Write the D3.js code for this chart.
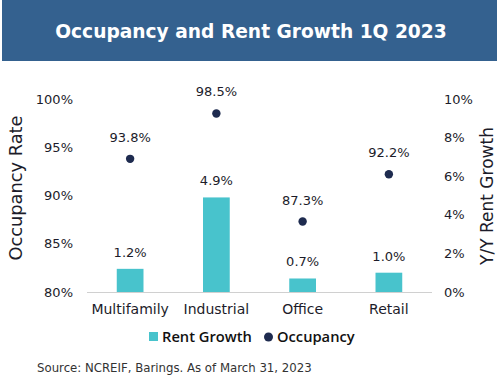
<!DOCTYPE html>
<html><head><meta charset="utf-8">
<script src="https://cdn.jsdelivr.net/npm/d3@7"></script>
<style>
html,body{margin:0;padding:0;background:#fff;}
svg{display:block;font-family:"DejaVu Sans",sans-serif;}
</style></head>
<body><svg id="c" width="500" height="388"></svg>
<script>
const categories = ["Multifamily","Industrial","Office","Retail"];
const rentGrowth = [1.2, 4.9, 0.7, 1.0];
const occupancy = [93.8, 98.5, 87.3, 92.2];
const leftTicks = [80, 85, 90, 95, 100];
const rightTicks = [0, 2, 4, 6, 8, 10];
const title = "Occupancy and Rent Growth 1Q 2023";
const source = "Source: NCREIF, Barings. As of March 31, 2023";

const svg = d3.select("#c");
const textCol = "#1c1c2a";
const barCol = "#48c3cc";
const dotCol = "#1e2b4f";

// banner
svg.append("rect").attr("x",2).attr("y",0).attr("width",495).attr("height",61).attr("fill","#34618f");
const t = svg.append("text").attr("x",251).attr("y",38).attr("text-anchor","middle")
  .attr("fill","#fff").attr("font-weight","bold").attr("font-size",20).text(title);
function fit(sel, w){ const L = sel.node().getComputedTextLength(); const fs = +sel.attr("font-size"); sel.attr("font-size", fs*w/L); }
fit(t, 392);

const x = d3.scaleBand().domain(categories).range([87,432]).paddingInner(0.69).paddingOuter(0.345);
const yL = d3.scaleLinear().domain([80,100]).range([292,99]);
const yR = d3.scaleLinear().domain([0,10]).range([292,99]);

// axis line
svg.append("line").attr("x1",87).attr("x2",432).attr("y1",292.5).attr("y2",292.5).attr("stroke","#d0d0d0").attr("stroke-width",1);

// left axis
const la = svg.append("g").attr("transform","translate(73,0)")
  .call(d3.axisLeft(yL).tickValues(leftTicks).tickSize(0).tickPadding(0).tickFormat(d=>d+"%"));
la.select(".domain").remove();
la.selectAll("text").attr("font-size",13).attr("fill",textCol).attr("font-family","DejaVu Sans, sans-serif");

// right axis
const ra = svg.append("g").attr("transform","translate(444,0)")
  .call(d3.axisRight(yR).tickValues(rightTicks).tickSize(0).tickPadding(0).tickFormat(d=>d+"%"));
ra.select(".domain").remove();
ra.selectAll("text").attr("font-size",13).attr("fill",textCol).attr("font-family","DejaVu Sans, sans-serif");

// x axis labels
const xa = svg.append("g").attr("transform","translate(0,292)")
  .call(d3.axisBottom(x).tickSize(0).tickPadding(12));
xa.select(".domain").remove();
xa.selectAll("text").attr("font-size",14).attr("fill",textCol).attr("font-family","DejaVu Sans, sans-serif");

// bars
svg.selectAll(".bar").data(categories).join("rect").attr("class","bar")
  .attr("x",d=>x(d)).attr("width",x.bandwidth())
  .attr("y",(d,i)=>yR(rentGrowth[i])).attr("height",(d,i)=>yR(0)-yR(rentGrowth[i]))
  .attr("fill",barCol);
svg.selectAll(".blab").data(categories).join("text").attr("class","blab")
  .attr("x",d=>x(d)+x.bandwidth()/2).attr("y",(d,i)=>yR(rentGrowth[i])-12)
  .attr("text-anchor","middle").attr("font-size",13).attr("fill",textCol)
  .text((d,i)=>rentGrowth[i].toFixed(1)+"%");

// dots
svg.selectAll(".dot").data(categories).join("circle").attr("class","dot")
  .attr("cx",d=>x(d)+x.bandwidth()/2).attr("cy",(d,i)=>yL(occupancy[i])).attr("r",4.2)
  .attr("fill",dotCol);
svg.selectAll(".dlab").data(categories).join("text").attr("class","dlab")
  .attr("x",d=>x(d)+x.bandwidth()/2).attr("y",(d,i)=>yL(occupancy[i])-17)
  .attr("text-anchor","middle").attr("font-size",13).attr("fill",textCol)
  .text((d,i)=>occupancy[i].toFixed(1)+"%");

// axis titles
const at1 = svg.append("text").attr("transform","translate(22,188) rotate(-90)").attr("text-anchor","middle")
  .attr("font-size",16).attr("fill",textCol).text("Occupancy Rate");
fit(at1,145);
const at2 = svg.append("text").attr("transform","translate(493,196) rotate(-90)").attr("text-anchor","middle")
  .attr("font-size",16).attr("fill",textCol).text("Y/Y Rent Growth");
fit(at2,138);

// legend
const lg = svg.append("g");
lg.append("rect").attr("x",149).attr("y",332).attr("width",9).attr("height",9).attr("fill",barCol);
const l1 = lg.append("text").attr("x",162).attr("y",342).attr("font-size",15).attr("fill","#111")
  .attr("font-family","'Open Sans', sans-serif").attr("font-weight",600).text("Rent Growth");
fit(l1,90);
lg.append("circle").attr("cx",268.5).attr("cy",337).attr("r",4.5).attr("fill",dotCol);
const l2 = lg.append("text").attr("x",277).attr("y",342).attr("font-size",l1.attr("font-size")).attr("fill","#111")
  .attr("font-family","'Open Sans', sans-serif").attr("font-weight",600).text("Occupancy");

// source
const s = svg.append("text").attr("x",37).attr("y",372).attr("font-size",11).attr("fill","#333").text(source);
fit(s,275);
</script></body></html>
